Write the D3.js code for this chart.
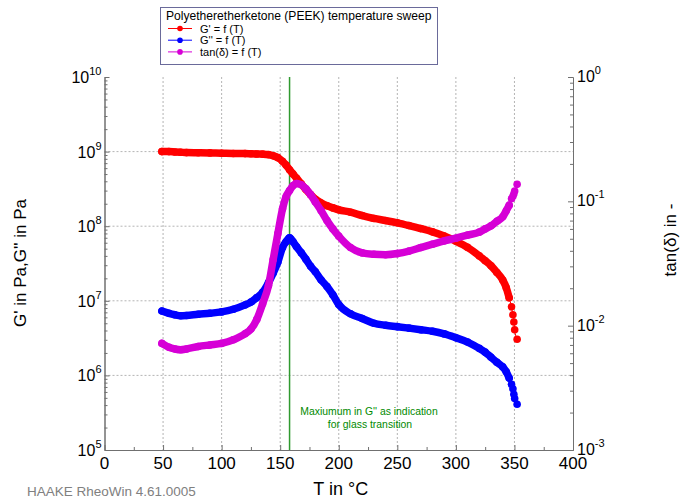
<!DOCTYPE html>
<html>
<head>
<meta charset="utf-8">
<script src="https://cdn.jsdelivr.net/npm/d3@7"></script>
<style>
  body { margin: 0; background: #fff; }
  svg { display: block; font-family: Arial, "Liberation Sans", sans-serif; }
  .grid line { stroke: #b4b4b4; stroke-dasharray: 2,2; }
</style>
</head>
<body>
<div class="chart"></div>
<script>
// temperatures of the sweep (°C)
const temps = [49, 55, 60, 65, 70, 80, 90, 100, 110, 120, 125, 130, 135, 140, 144, 148, 152, 155, 158, 161,
    164, 168, 172, 176, 180, 185, 190, 195, 200, 210, 220, 230, 240, 250, 260, 270, 280, 290, 300, 310,
    320, 325, 330, 335, 340, 343, 345.5, 347.5, 348.7, 349.5, 350.2, 352.3];

// G' in Pa
const storageMod = [1.0e9, 1.0e9, 9.9e8, 9.8e8, 9.7e8, 9.65e8, 9.6e8, 9.5e8, 9.45e8, 9.4e8,
    9.35e8, 9.3e8, 9.25e8, 9.1e8, 8.8e8, 8.3e8, 7.4e8, 6.6e8, 5.7e8, 5.0e8,
    4.4e8, 3.7e8, 3.1e8, 2.65e8, 2.3e8, 2.05e8, 1.88e8, 1.76e8, 1.66e8, 1.54e8,
    1.39e8, 1.27e8, 1.19e8, 1.11e8, 1.02e8, 9.3e7, 8.4e7, 7.4e7, 6.3e7, 5.2e7,
    4.0e7, 3.45e7, 2.95e7, 2.4e7, 1.9e7, 1.5e7, 1.1e7, 8.3e6, 6.5e6, 5.2e6,
    4.1e6, 3.05e6];

// G'' in Pa
const lossMod = [7.3e6, 6.8e6, 6.5e6, 6.3e6, 6.35e6, 6.6e6, 6.8e6, 7.1e6, 7.7e6, 8.8e6,
    9.6e6, 1.1e7, 1.3e7, 1.75e7, 2.35e7, 3.3e7, 5.2e7, 6.2e7, 7.0e7, 6.2e7,
    5.3e7, 4.4e7, 3.6e7, 2.9e7, 2.45e7, 1.9e7, 1.55e7, 1.2e7, 8.9e6, 6.7e6,
    5.8e6, 5.0e6, 4.7e6, 4.5e6, 4.3e6, 4.1e6, 3.9e6, 3.6e6, 3.2e6, 2.8e6,
    2.3e6, 2.05e6, 1.75e6, 1.5e6, 1.3e6, 1.12e6, 9.2e5, 7.6e5, 6.6e5, 5.6e5,
    4.9e5, 4.1e5];

// tan(delta)
const tanDelta = [0.0072, 0.0067, 0.0065, 0.0064, 0.0065, 0.0068, 0.0070, 0.0072, 0.0077, 0.0086,
    0.0094, 0.0112, 0.0150, 0.021, 0.034, 0.055, 0.087, 0.109, 0.122, 0.134,
    0.139, 0.136, 0.126, 0.113, 0.099, 0.084, 0.070, 0.060, 0.0525, 0.0425,
    0.0385, 0.0375, 0.0372, 0.038, 0.0398, 0.0425, 0.0452, 0.048, 0.0505, 0.0535,
    0.0565, 0.060, 0.0635, 0.069, 0.075, 0.084, 0.093, 0.105, 0.110, 0.115,
    0.121, 0.137];

const xTicks = [0, 50, 100, 150, 200, 250, 300, 350, 400];
const leftExps = [5, 6, 7, 8, 9, 10];
const rightExps = [-3, -2, -1, 0];
const glassT = 158;   // G'' maximum

const width = 680;
const height = 499;
const plotL = 104.5, plotR = 573, plotT = 77, plotB = 450;

const svg = d3.select(".chart").append("svg")
    .attr("width", width)
    .attr("height", height);

const xScale = d3.scaleLinear().domain([0, 400]).range([plotL, plotR]);
const yLeft = d3.scaleLog().domain([1e5, 1e10]).range([plotB, plotT]);
const yRight = d3.scaleLog().domain([1e-3, 1]).range([plotB, plotT]);

// dotted grid
const grid = svg.append("g").attr("class", "grid");
grid.selectAll(".vg")
    .data(xTicks.filter(d => d > 0 && d < 400))
    .enter().append("line")
    .attr("x1", d => xScale(d)).attr("x2", d => xScale(d))
    .attr("y1", plotT).attr("y2", plotB);
grid.selectAll(".hg")
    .data(leftExps.filter(e => e > 5 && e < 10))
    .enter().append("line")
    .attr("x1", plotL).attr("x2", plotR)
    .attr("y1", e => yLeft(Math.pow(10, e))).attr("y2", e => yLeft(Math.pow(10, e)));

// minor tick values for log axes
const minorTicks = (lo, hi) => {
    let out = [];
    for (let e = lo; e < hi; e++) {
        for (let m = 2; m <= 9; m++) out.push(m * Math.pow(10, e));
    }
    return out;
};

const axisColor = "#707070";
const styleAxis = g => {
    g.select(".domain").attr("stroke", axisColor);
    g.selectAll(".tick line").attr("stroke", axisColor);
    g.selectAll(".tick text").remove();
};

// bottom axis, ticks pointing inward
svg.append("g")
    .attr("transform", "translate(0," + plotB + ")")
    .call(d3.axisBottom(xScale).tickValues(xTicks).tickSize(-5).tickSizeOuter(0))
    .call(styleAxis);
svg.append("g")
    .attr("transform", "translate(0," + plotB + ")")
    .call(d3.axisBottom(xScale).tickValues(d3.range(25, 400, 50)).tickSize(-3).tickSizeOuter(0))
    .call(styleAxis);

// left axis
svg.append("g")
    .attr("transform", "translate(" + plotL + ",0)")
    .call(d3.axisLeft(yLeft).tickValues(leftExps.map(e => Math.pow(10, e))).tickSize(-5).tickSizeOuter(0))
    .call(styleAxis);
svg.append("g")
    .attr("transform", "translate(" + plotL + ",0)")
    .call(d3.axisLeft(yLeft).tickValues(minorTicks(5, 10)).tickSize(-3).tickSizeOuter(0))
    .call(styleAxis);

// right axis
svg.append("g")
    .attr("transform", "translate(" + plotR + ",0)")
    .call(d3.axisRight(yRight).tickValues(rightExps.map(e => Math.pow(10, e))).tickSize(-5).tickSizeOuter(0))
    .call(styleAxis);
svg.append("g")
    .attr("transform", "translate(" + plotR + ",0)")
    .call(d3.axisRight(yRight).tickValues(minorTicks(-3, 0)).tickSize(-3).tickSizeOuter(0))
    .call(styleAxis);

// tick labels
svg.selectAll(".xlab")
    .data(xTicks)
    .enter().append("text")
    .attr("x", d => xScale(d))
    .attr("y", plotB + 19)
    .attr("text-anchor", "middle")
    .attr("font-size", 17)
    .attr("fill", "#000")
    .text(d => d);

const powLabel = (sel, exps, scale, xPos, anchor, dyBase) => {
    const t = sel.selectAll(null)
        .data(exps)
        .enter().append("text")
        .attr("x", xPos)
        .attr("y", e => scale(Math.pow(10, e)) + dyBase)
        .attr("text-anchor", anchor)
        .attr("font-size", 16)
        .attr("fill", "#000");
    t.append("tspan").text("10");
    t.append("tspan")
        .attr("dy", -8)
        .attr("font-size", 11)
        .text(e => e);
};
powLabel(svg.append("g"), leftExps, yLeft, plotL - 3, "end", 6);
powLabel(svg.append("g"), rightExps, yRight, plotR + 4, "start", 5);

// axis titles
svg.append("text")
    .attr("x", xScale(200) + 2)
    .attr("y", 495)
    .attr("text-anchor", "middle")
    .attr("font-size", 18)
    .text("T in °C");
svg.append("text")
    .attr("transform", "translate(26,263) rotate(-90)")
    .attr("text-anchor", "middle")
    .attr("font-size", 17)
    .text("G' in Pa,G'' in Pa");
svg.append("text")
    .attr("transform", "translate(676,240) rotate(-90)")
    .attr("text-anchor", "middle")
    .attr("font-size", 17)
    .text("tan(δ) in -");

// glass transition marker
svg.append("line")
    .attr("x1", xScale(glassT)).attr("x2", xScale(glassT))
    .attr("y1", plotT).attr("y2", plotB)
    .attr("stroke", "#2f9a2f")
    .attr("stroke-width", 1.5);
const note = svg.append("text")
    .attr("text-anchor", "middle")
    .attr("font-size", 10.4)
    .attr("fill", "#008a00");
note.append("tspan").attr("x", 369).attr("y", 415).text("Maxiumum in G'' as indication");
note.append("tspan").attr("x", 370).attr("y", 428).text("for glass transition");

// series
const series = [
    { name: "G' = f (T)", values: storageMod, y: yLeft, color: "#ff0000" },
    { name: "G'' = f (T)", values: lossMod, y: yLeft, color: "#0000ff" },
    { name: "tan(δ) = f (T)", values: tanDelta, y: yRight, color: "#d600d6" }
];

series.forEach(s => {
    const pts = temps.map((t, i) => [t, s.values[i]]);
    const line = d3.line()
        .x(d => xScale(d[0]))
        .y(d => s.y(d[1]))
        .curve(d3.curveMonotoneX);
    const g = svg.append("g");
    // thin connecting line for the whole run
    g.append("path")
        .attr("d", line(pts))
        .attr("fill", "none")
        .attr("stroke", s.color)
        .attr("stroke-width", 1);
    // dense markers merge into a thick band
    g.append("path")
        .attr("d", line(pts.filter(d => d[0] <= 345.5)))
        .attr("fill", "none")
        .attr("stroke", s.color)
        .attr("stroke-width", 7.5)
        .attr("stroke-linecap", "round")
        .attr("stroke-linejoin", "round");
    g.selectAll("circle")
        .data(pts)
        .enter().append("circle")
        .attr("cx", d => xScale(d[0]))
        .attr("cy", d => s.y(d[1]))
        .attr("r", 3.8)
        .attr("fill", s.color);
});

// legend
const legend = svg.append("g");
legend.append("rect")
    .attr("x", 160.5).attr("y", 7.5)
    .attr("width", 277).attr("height", 57)
    .attr("fill", "#fff")
    .attr("stroke", "#6a6a9a");
legend.append("text")
    .attr("x", 166).attr("y", 20)
    .attr("font-size", 12.1)
    .text("Polyetheretherketone (PEEK) temperature sweep");
series.forEach((s, i) => {
    const cy = 28.5 + i * 11.7;
    legend.append("line")
        .attr("x1", 168).attr("x2", 192)
        .attr("y1", cy).attr("y2", cy)
        .attr("stroke", s.color);
    legend.append("circle")
        .attr("cx", 180).attr("cy", cy).attr("r", 2.8)
        .attr("fill", s.color);
    legend.append("text")
        .attr("x", 200).attr("y", cy + 4)
        .attr("font-size", 11)
        .text(s.name);
});

// footer
svg.append("text")
    .attr("x", 27).attr("y", 496)
    .attr("font-size", 13.5)
    .attr("fill", "#808080")
    .text("HAAKE RheoWin 4.61.0005");
</script>
</body>
</html>
